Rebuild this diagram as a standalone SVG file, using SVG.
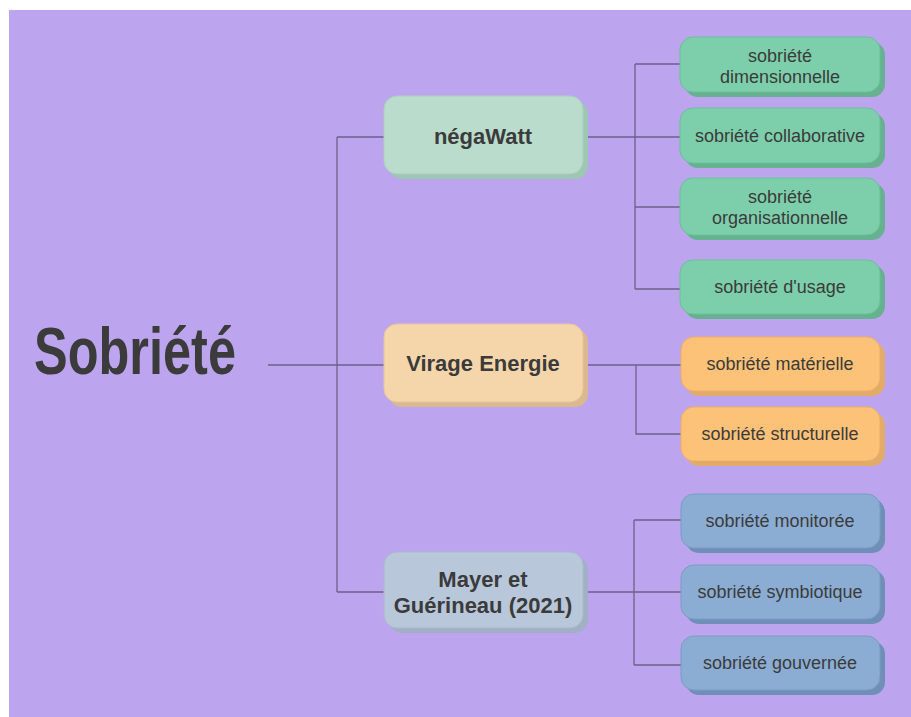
<svg xmlns="http://www.w3.org/2000/svg" width="911" height="717" viewBox="0 0 911 717">
<style>
.t{font-family:"Liberation Sans",Arial,sans-serif;fill:#3b3b3b;text-anchor:middle}
.m{font-size:22px;font-weight:bold}
.c{font-size:18px}
.lk{fill:none;stroke:#6e5f8a;stroke-width:1.3}
.g{fill:#7dcfac;stroke:#6cbf9b;stroke-width:1}
.gs{fill:#66b18f}
.o{fill:#fcc278;stroke:#ecb067;stroke-width:1}
.os{fill:#e2ab6a}
.b{fill:#8badd3;stroke:#7b9cc3;stroke-width:1}
.bs{fill:#6f8fb6}
</style>
<rect x="0" y="0" width="911" height="717" fill="#ffffff"/>
<rect x="9" y="10" width="902" height="707" fill="#bca5ee"/>

<g id="connectors" class="lk">
<path d="M268 365H337M337 137V592M337 137H384M337 365H384M337 592H384"/>
<path d="M583 137H680M635 64V289M635 64H680M635 207H680M635 289H680"/>
<path d="M583 365H681M636 365V434H681"/>
<path d="M583 592H681M634 520V665M634 520H681M634 665H681"/>
</g>

<g id="root">
<text class="t" x="34" y="374" style="text-anchor:start;font-size:66px;font-weight:bold" textLength="202" lengthAdjust="spacingAndGlyphs">Sobriété</text>
</g>

<g id="negawatt">
<rect x="389" y="101" width="199" height="78" rx="13" fill="#9ec7b3"/>
<rect x="384" y="96" width="199" height="78" rx="13" fill="#b9dccc" stroke="#a9cfbd"/>
<text class="t m" x="483" y="144">négaWatt</text>
</g>
<g id="virage">
<rect x="389" y="329" width="199" height="78" rx="13" fill="#dbb88f"/>
<rect x="384" y="324" width="199" height="78" rx="13" fill="#f5d6ab" stroke="#e6c59a"/>
<text class="t m" x="483" y="371">Virage Energie</text>
</g>
<g id="mayer">
<rect x="389" y="557" width="199" height="76" rx="13" fill="#a2b0c6"/>
<rect x="384" y="552" width="199" height="76" rx="13" fill="#b9c7da" stroke="#aab8cc"/>
<text class="t m" x="483" y="587">Mayer et</text>
<text class="t m" x="483" y="613">Guérineau (2021)</text>
</g>

<g id="n-dimensionnelle">
<rect class="gs" x="685" y="42" width="200" height="55" rx="13"/>
<rect class="g" x="680" y="37" width="200" height="55" rx="13"/>
<text class="t c" x="780" y="62">sobriété</text>
<text class="t c" x="780" y="83">dimensionnelle</text>
</g>
<g id="n-collaborative">
<rect class="gs" x="685" y="113" width="200" height="55" rx="13"/>
<rect class="g" x="680" y="108" width="200" height="55" rx="13"/>
<text class="t c" x="780" y="142">sobriété collaborative</text>
</g>
<g id="n-organisationnelle">
<rect class="gs" x="685" y="183" width="200" height="57" rx="13"/>
<rect class="g" x="680" y="178" width="200" height="57" rx="13"/>
<text class="t c" x="780" y="203">sobriété</text>
<text class="t c" x="780" y="224">organisationnelle</text>
</g>
<g id="n-usage">
<rect class="gs" x="685" y="265" width="200" height="54" rx="13"/>
<rect class="g" x="680" y="260" width="200" height="54" rx="13"/>
<text class="t c" x="780" y="293">sobriété d'usage</text>
</g>

<g id="n-materielle">
<rect class="os" x="686" y="342" width="199" height="54" rx="13"/>
<rect class="o" x="681" y="337" width="199" height="54" rx="13"/>
<text class="t c" x="780" y="370">sobriété matérielle</text>
</g>
<g id="n-structurelle">
<rect class="os" x="686" y="412" width="199" height="54" rx="13"/>
<rect class="o" x="681" y="407" width="199" height="54" rx="13"/>
<text class="t c" x="780" y="440">sobriété structurelle</text>
</g>

<g id="n-monitoree">
<rect class="bs" x="686" y="499" width="199" height="54" rx="13"/>
<rect class="b" x="681" y="494" width="199" height="54" rx="13"/>
<text class="t c" x="780" y="527">sobriété monitorée</text>
</g>
<g id="n-symbiotique">
<rect class="bs" x="686" y="570" width="199" height="54" rx="13"/>
<rect class="b" x="681" y="565" width="199" height="54" rx="13"/>
<text class="t c" x="780" y="598">sobriété symbiotique</text>
</g>
<g id="n-gouvernee">
<rect class="bs" x="686" y="641" width="199" height="54" rx="13"/>
<rect class="b" x="681" y="636" width="199" height="54" rx="13"/>
<text class="t c" x="780" y="669">sobriété gouvernée</text>
</g>
</svg>
